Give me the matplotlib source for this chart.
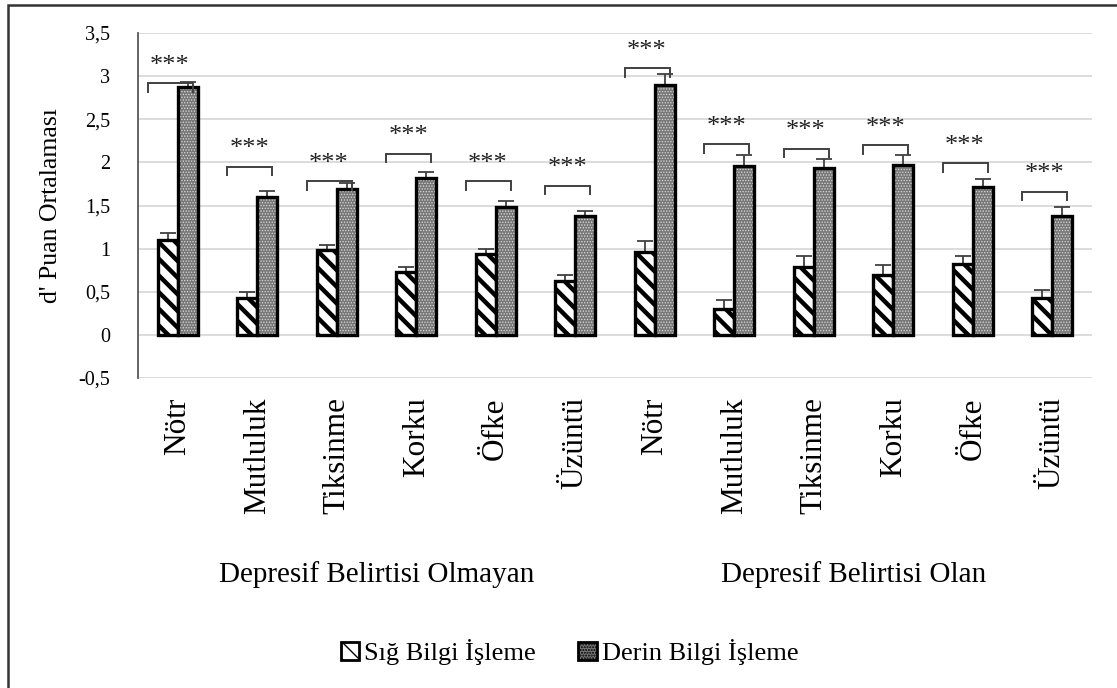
import matplotlib
matplotlib.use('Agg')
import matplotlib.pyplot as plt
from matplotlib.patches import Rectangle, Patch
import numpy as np

plt.rcParams['font.family'] = ['Liberation Serif', 'DejaVu Serif']

emotions = ['Nötr', 'Mutluluk', 'Tiksinme', 'Korku', 'Öfke', 'Üzüntü']
categories = emotions + emotions
groups = ['Depresif Belirtisi Olmayan', 'Depresif Belirtisi Olan']
series = ['Sığ Bilgi İşleme', 'Derin Bilgi İşleme']

shallow = [1.10, 0.43, 0.98, 0.73, 0.94, 0.63, 0.96, 0.30, 0.79, 0.69, 0.82, 0.43]
shallow_err = [0.08, 0.07, 0.06, 0.06, 0.06, 0.06, 0.13, 0.10, 0.12, 0.12, 0.10, 0.09]
deep = [2.87, 1.60, 1.69, 1.82, 1.48, 1.38, 2.90, 1.96, 1.94, 1.97, 1.71, 1.38]
deep_err = [0.06, 0.07, 0.07, 0.07, 0.07, 0.06, 0.12, 0.12, 0.10, 0.12, 0.10, 0.10]

# significance brackets (height of bracket top) and star labels
bracket_y = [2.92, 1.95, 1.78, 2.10, 1.78, 1.73, 3.09, 2.21, 2.16, 2.20, 1.99, 1.66]
stars = ['***'] * 12

yticks = [-0.5, 0, 0.5, 1, 1.5, 2, 2.5, 3, 3.5]
ytick_labels = ['-0,5', '0', '0,5', '1', '1,5', '2', '2,5', '3', '3,5']

W, H = 1117, 688
fig = plt.figure(figsize=(W / 100, H / 100), dpi=100)
ax = fig.add_axes([138 / W, 1 - 378 / H, (1092 - 138) / W, (378 - 33) / H])

x = np.arange(len(categories))
bw = 0.25

with plt.rc_context({'hatch.linewidth': 3.2}):
    ax.bar(x - bw / 2, shallow, bw, facecolor='white', edgecolor='black',
           hatch='\\\\', linewidth=2.4, zorder=3)
with plt.rc_context({'hatch.linewidth': 0.6}):
    ax.bar(x + bw / 2, deep, bw, facecolor='#777777', edgecolor='#dcdcdc',
           hatch='......', linewidth=0, zorder=3)
ax.bar(x + bw / 2, deep, bw, facecolor='none', edgecolor='black',
       linewidth=2.4, zorder=4)

ax.errorbar(x - bw / 2, shallow, yerr=[np.zeros(12), shallow_err], fmt='none',
            ecolor='#404040', elinewidth=1.3, capsize=5.5, capthick=1.3, zorder=2)
ax.errorbar(x + bw / 2, deep, yerr=[np.zeros(12), deep_err], fmt='none',
            ecolor='#404040', elinewidth=1.3, capsize=5.5, capthick=1.3, zorder=2)

for xi, by, s in zip(x, bracket_y, stars):
    x0, x1 = xi - 0.38, xi + 0.19
    ax.plot([x0, x0, x1, x1], [by - 0.1, by, by, by - 0.1], color='#404040',
            lw=1.4, zorder=5, solid_joinstyle='miter')
    ax.text(xi - 0.1, by + 0.2, s, ha='center', va='center', fontsize=19,
            color='#222222', zorder=5)

ax.set_xlim(-0.5, len(categories) - 0.5)
ax.set_ylim(-0.5, 3.5)
ax.set_yticks(yticks)
ax.set_yticklabels(ytick_labels, fontsize=14.5)
ax.set_xticks(x)
ax.set_xticklabels(categories, rotation=90, fontsize=22.5, va='top')
ax.tick_params(axis='x', length=0, pad=14)
ax.tick_params(axis='y', length=0, pad=20)
ax.grid(axis='y', color='#d9d9d9', lw=1.3, zorder=0)
for side in ['top', 'right', 'bottom']:
    ax.spines[side].set_visible(False)
ax.spines['left'].set_color('#595959')
ax.spines['left'].set_linewidth(1.3)
ax.set_ylabel("d' Puan Ortalaması", fontsize=18.5, labelpad=12)

trans = matplotlib.transforms.blended_transform_factory(ax.transData, fig.transFigure)
ax.text(2.5, 1 - 575 / H, groups[0], transform=trans, ha='center', va='center', fontsize=21)
ax.text(8.5, 1 - 575 / H, groups[1], transform=trans, ha='center', va='center', fontsize=21)

handles = [
    Patch(facecolor='white', edgecolor='black', hatch='\\\\', linewidth=2),
    Patch(facecolor='#777777', edgecolor='black', hatch='......', linewidth=2),
]
fig.legend(handles, series, loc='center', bbox_to_anchor=(0.51, 1 - 652 / H),
           ncol=2, frameon=False, fontsize=19, handlelength=0.7, handleheight=0.7,
           handletextpad=0.2, columnspacing=1.6)

fig.patches.append(Rectangle((8 / W, -0.05), 1.1, 1 - 5 / H + 0.05, transform=fig.transFigure,
                             facecolor='none', edgecolor='#333333', lw=1.8))

fig.savefig('out.png', dpi=100)
